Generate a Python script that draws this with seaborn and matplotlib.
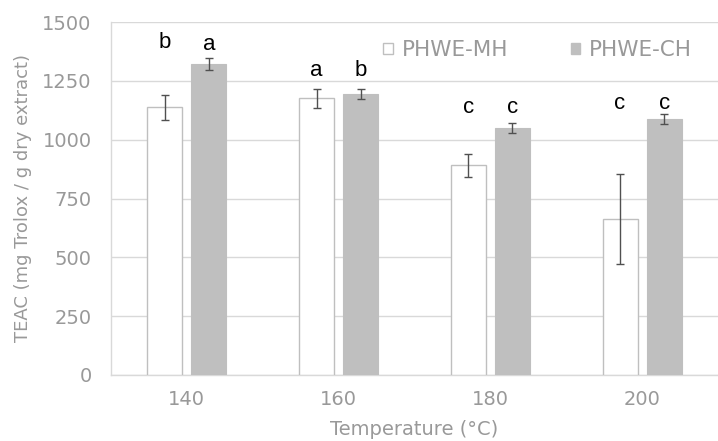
import matplotlib
matplotlib.use("Agg")
import matplotlib.pyplot as plt
from matplotlib.patches import Patch
import numpy as np
import pandas as pd
import seaborn as sns

temps = ["140", "160", "180", "200"]
series = ["PHWE-MH", "PHWE-CH"]
mh_vals = [1138, 1176, 891, 663]
ch_vals = [1320, 1194, 1051, 1088]
mh_err = [53, 40, 50, 190]
ch_err = [26, 22, 21, 21]
mh_letters = ["b", "a", "c", "c"]
ch_letters = ["a", "b", "c", "c"]
mh_letter_y = [1412, 1292, 1138, 1152]
ch_letter_y = [1405, 1292, 1138, 1152]

df = pd.DataFrame({
    "temp": temps * 2,
    "series": [series[0]] * 4 + [series[1]] * 4,
    "teac": mh_vals + ch_vals,
})

sns.set_style("white")
plt.rcParams["font.family"] = ["DejaVu Sans"]

grey = "#bfbfbf"
txt = "#999999"

fig = plt.figure(figsize=(7.18, 4.41), dpi=100)
ax = fig.add_axes([111 / 718, 1 - 375 / 441, 1 - 111 / 718, 353 / 441])

sns.barplot(data=df, x="temp", y="teac", hue="series", order=temps,
            hue_order=series, palette=["white", grey], width=0.58, gap=0.2,
            errorbar=None, legend=False, ax=ax, zorder=3)

# seaborn draws hue levels in order, one patch per category
bars = ax.patches
mh_bars, ch_bars = bars[:4], bars[4:8]
for p in mh_bars:
    p.set_edgecolor(grey)
    p.set_linewidth(1.0)
for p in ch_bars:
    p.set_edgecolor(grey)
    p.set_linewidth(0.8)

for group, vals, errs, letters, ly in [(mh_bars, mh_vals, mh_err, mh_letters, mh_letter_y),
                                      (ch_bars, ch_vals, ch_err, ch_letters, ch_letter_y)]:
    xs = [p.get_x() + p.get_width() / 2 for p in group]
    ax.errorbar(xs, vals, yerr=errs, fmt="none", ecolor="#505050",
                elinewidth=1.0, capsize=2.6, capthick=1.0, zorder=4)
    for x, l, y in zip(xs, letters, ly):
        ax.text(x, y, l, ha="center", va="center", fontsize=16, color="black",
                family="Liberation Sans", zorder=5)

ax.set_xlim(-0.5, 3.5)
ax.set_ylim(0, 1500)
ax.set_yticks(np.arange(0, 1501, 250))
ax.yaxis.grid(True, color="#d9d9d9", linewidth=1.0, zorder=0)
ax.set_axisbelow(True)
for s in ["top", "right"]:
    ax.spines[s].set_visible(False)
ax.spines["left"].set_color("#d9d9d9")
ax.spines["bottom"].set_color("#d9d9d9")
ax.spines["left"].set_linewidth(1.0)
ax.spines["bottom"].set_linewidth(1.0)
ax.tick_params(axis="both", length=0, labelsize=14, labelcolor=txt)
ax.tick_params(axis="x", pad=11)
ax.tick_params(axis="y", pad=14)

ax.set_xlabel("Temperature (°C)", fontsize=14, color=txt, labelpad=8)
ax.set_ylabel("TEAC (mg Trolox / g dry extract)", fontsize=13, color=txt, labelpad=7)

handles = [Patch(facecolor="white", edgecolor=grey, label=series[0]),
           Patch(facecolor=grey, edgecolor=grey, label=series[1])]
ax.legend(handles=handles, loc="center", bbox_to_anchor=(0.703, 0.92), ncol=2,
          frameon=False, fontsize=15.5, labelcolor=txt, handlelength=0.45,
          handleheight=0.45, handletextpad=0.4, columnspacing=2.9)

fig.savefig("out.png", dpi=100)
plt.close(fig)
